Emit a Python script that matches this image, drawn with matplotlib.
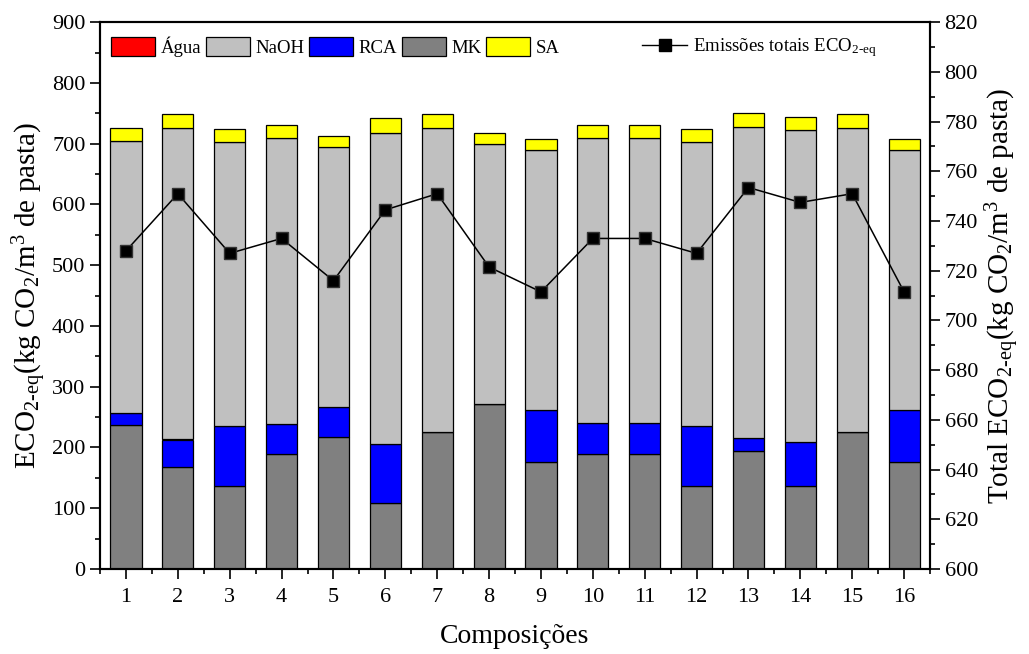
import matplotlib
matplotlib.use('Agg')
import matplotlib.pyplot as plt
import numpy as np
from matplotlib.lines import Line2D
from matplotlib.ticker import MultipleLocator

plt.rcParams['font.family'] = ['Liberation Serif', 'DejaVu Serif']
plt.rcParams['mathtext.fontset'] = 'custom'
plt.rcParams['mathtext.rm'] = 'Liberation Serif'
plt.rcParams['mathtext.it'] = 'Liberation Serif:italic'

# dados
comp = np.arange(1, 17)
agua = [0.2] * 16
mk = [237, 168, 136, 190, 217, 108, 226, 272, 176, 190, 190, 136, 195, 137, 226, 176]
rca = [20, 45, 99, 49, 50, 98, 0, 0, 86, 50, 50, 99, 20, 72, 0, 86]
naoh = [448, 512, 468, 470, 427, 512, 500, 427, 428, 470, 470, 468, 512, 513, 500, 428]
sa = [20, 23, 21, 21, 19, 24, 22, 18.5, 18, 20.5, 20.5, 21, 23.5, 22.5, 22, 18]
total = [728, 751, 727, 733, 716, 744.5, 751, 721.5, 711.5, 733, 733, 727, 753.5, 747.5, 751, 711.5]

fig = plt.figure(figsize=(10.29, 6.54), dpi=100)
ax1 = fig.add_axes([0.0972, 0.130, 0.8066, 0.836])

w = 0.6
kw = dict(width=w, edgecolor='black', linewidth=0.9)
b_mk = ax1.bar(comp, mk, color='#808080', **kw)
bottom = np.array(mk, dtype=float)
b_rca = ax1.bar(comp, rca, bottom=bottom, color='#0000FF', **kw)
bottom += rca
b_agua = ax1.bar(comp, agua, bottom=bottom, color='#FF0000', edgecolor='none', width=w)
bottom += agua
b_naoh = ax1.bar(comp, naoh, bottom=bottom, color='#C0C0C0', **kw)
bottom += naoh
b_sa = ax1.bar(comp, sa, bottom=bottom, color='#FFFF00', **kw)

ax1.set_xlim(0.5, 16.5)
ax1.set_ylim(0, 900)
ax1.set_xticks(comp)
ax1.xaxis.set_minor_locator(MultipleLocator(0.5))
ax1.yaxis.set_major_locator(MultipleLocator(100))
ax1.yaxis.set_minor_locator(MultipleLocator(50))
ax1.tick_params(which='major', direction='out', length=7, width=1.2, labelsize=16)
ax1.tick_params(axis='x', pad=7)
ax1.tick_params(which='minor', direction='out', length=3.5, width=1.2)
for s in ax1.spines.values():
    s.set_linewidth(1.5)

ax1.set_xlabel('Composições', fontsize=20, labelpad=12)
ax1.set_ylabel(r'ECO$_{\text{2-eq}}$(kg CO$_2$/m$^3$ de pasta)', fontsize=21, labelpad=2)

ax2 = ax1.twinx()
ax2.plot(comp, total, color='black', linewidth=1.1, marker='s', markersize=9,
         markeredgecolor='#333333', markerfacecolor='black')
ax2.set_ylim(600, 820)
ax2.yaxis.set_major_locator(MultipleLocator(20))
ax2.yaxis.set_minor_locator(MultipleLocator(10))
ax2.tick_params(which='major', direction='out', length=7, width=1.2, labelsize=16)
ax2.tick_params(which='minor', direction='out', length=3.5, width=1.2)
ax2.set_ylabel(r'Total ECO$_{\text{2-eq}}$(kg CO$_2$/m$^3$ de pasta)', fontsize=21, labelpad=4)
for s in ax2.spines.values():
    s.set_linewidth(1.5)

leg1 = ax2.legend([b_agua, b_naoh, b_rca, b_mk, b_sa], ['Água', 'NaOH', 'RCA', 'MK', 'SA'],
                  loc='upper left', bbox_to_anchor=(0.0, 0.995), ncol=5, frameon=False,
                  fontsize=13.5, handlelength=2.35, handleheight=1.15,
                  handletextpad=0.27, columnspacing=0.27, borderaxespad=0.2)
for p in leg1.get_patches():
    p.set_edgecolor('black')
    p.set_linewidth(0.9)
ax2.add_artist(leg1)
proxy = Line2D([], [], color='black', linewidth=1, marker='s', markersize=8)
ax2.legend([proxy], [r'Emissões totais ECO$_{\text{2-eq}}$'], loc='upper left',
           bbox_to_anchor=(0.64, 0.995), frameon=False, fontsize=13.5,
           handlelength=2.4, handletextpad=0.3, borderaxespad=0.2)

fig.savefig('out.png', dpi=100)
